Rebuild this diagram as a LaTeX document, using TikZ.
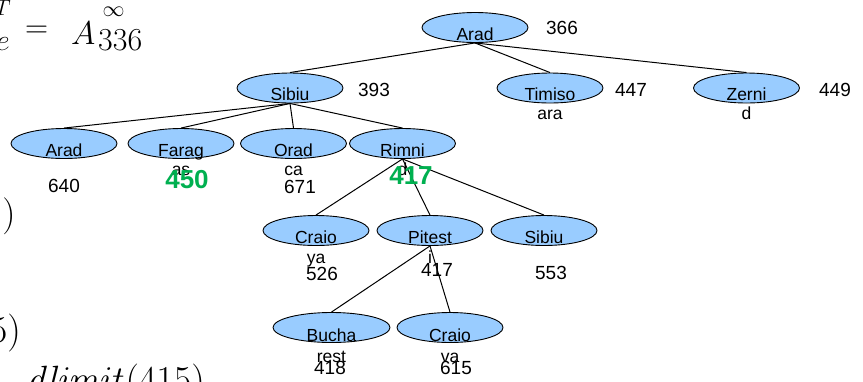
\RequirePackage{fix-cm}
\documentclass[tikz,border=0pt]{standalone}
\usepackage[no-math]{fontspec}
\setmainfont{Liberation Sans}
\usetikzlibrary{shapes.geometric}
\definecolor{nodeblue}{RGB}{153,204,255}
\definecolor{hgreen}{RGB}{0,176,80}
\begin{document}
\begin{tikzpicture}[x=1pt,y=-1pt,
  city/.style={ellipse, draw=black, line width=0.9pt, fill=nodeblue,
    minimum width=106pt, minimum height=30pt, inner sep=0pt},
  nm/.style={font=\fontsize{17.5}{20}\selectfont, inner sep=0pt, anchor=base},
  cost/.style={font=\fontsize{19}{22}\selectfont, inner sep=0pt},
  hcost/.style={font=\fontsize{26}{30}\selectfont\bfseries, text=hgreen, inner sep=0pt},
  edge/.style={draw=black, line width=1pt},
  mth/.style={inner sep=0pt, anchor=base west}]
\useasboundingbox (0,0) rectangle (863,381);
\clip (0,0) rectangle (863,381);

% ellipses
\node[city] (a0) at (475,27.5) {};
\node[city] (s1) at (290,88) {};
\node[city] (t1) at (550,88) {};
\node[city] (z1) at (746.5,88) {};
\node[city] (a2) at (64,143.5) {};
\node[city] (f2) at (181,143.5) {};
\node[city] (o2) at (293.5,143.5) {};
\node[city] (r2) at (402.5,143.5) {};
\node[city] (c3) at (316,230.5) {};
\node[city] (p3) at (430,230.5) {};
\node[city] (s3) at (544,230.5) {};
\node[city, minimum width=117pt] (b4) at (331.5,327.5) {};
\node[city] (c4) at (450,327.5) {};

% edges
\draw[edge] (a0.south) -- (s1.north);
\draw[edge] (a0.south) -- (t1.north);
\draw[edge] (a0.south) -- (z1.north);
\draw[edge] (s1.south) -- (a2.north);
\draw[edge] (s1.south) -- (f2.north);
\draw[edge] (s1.south) -- (o2.north);
\draw[edge] (s1.south) -- (r2.north);
\draw[edge] (r2.south) -- (c3.north);
\draw[edge] (r2.south) -- (p3.north);
\draw[edge] (r2.south) -- (s3.north);
\draw[edge] (p3.south) -- (b4.north);
\draw[edge] (p3.south) -- (c4.north);

% node texts
\node[nm] (a0t) at ([yshift=-12.5pt]a0.center) {Arad};
\node[nm] (s1t) at ([yshift=-12.5pt]s1.center) {Sibiu};
\node[nm] (t1t) at ([yshift=-12.5pt]t1.center) {Timiso};
\node[nm] (t1u) at ([yshift=-31pt]t1.center) {ara};
\node[nm] (z1t) at ([yshift=-12.5pt]z1.center) {Zerni};
\node[nm] (z1u) at ([yshift=-31pt]z1.center) {d};
\node[nm] (a2t) at ([yshift=-13pt]a2.center) {Arad};
\node[nm] (f2t) at ([yshift=-13pt]f2.center) {Farag};
\node[nm] (f2u) at ([yshift=-31.5pt]f2.center) {as};
\node[nm] (o2t) at ([yshift=-13pt]o2.center) {Orad};
\node[nm] (o2u) at ([yshift=-31.5pt]o2.center) {ca};
\node[nm] (r2t) at ([yshift=-13pt]r2.center) {Rimni};
\node[nm] (r2u) at ([yshift=-31.5pt]r2.center) {d};
\node[nm] (c3t) at ([yshift=-13pt]c3.center) {Craio};
\node[nm] (c3u) at ([yshift=-33pt]c3.center) {ya};
\node[nm] (p3t) at ([yshift=-13pt]p3.center) {Pitest};
\node[nm] (p3u) at ([yshift=-33pt]p3.center) {i};
\node[nm] (s3t) at ([yshift=-13pt]s3.center) {Sibiu};
\node[nm] (b4t) at ([yshift=-14pt]b4.center) {Bucha};
\node[nm] (b4u) at ([yshift=-34.5pt]b4.center) {rest};
\node[nm] (c4t) at ([yshift=-14pt]c4.center) {Craio};
\node[nm] (c4u) at ([yshift=-34.5pt]c4.center) {va};

% costs
\node[cost] (k366) at (562,28) {366};
\node[cost] (k393) at (374,90) {393};
\node[cost] (k447) at (631,90) {447};
\node[cost] (k449) at (835,90) {449};
\node[cost] (k640) at (64,186) {640};
\node[cost] (k671) at (300,187) {671};
\node[hcost] (k450) at (187,180) {450};
\node[hcost] (k417a) at (411,176) {417};
\node[cost] (k526) at (322,274) {526};
\node[cost] (k417) at (437,270) {417};
\node[cost] (k553) at (551,273) {553};
\node[cost] (k418) at (330,368) {418};
\node[cost] (k615) at (456,368) {615};

% math fragments on the left
\node[mth, font=\fontsize{22}{26}\selectfont] (mT) at (-5,15) {$T$};
\node[mth, font=\fontsize{30}{34}\selectfont] (me) at (-4,50) {$e$};
\node[mth, font=\fontsize{32}{38}\selectfont] (meq) at (25,37) {$=$};
\node[mth, font=\fontsize{33}{38}\selectfont] (mA) at (71,44) {$A$};
\node[inner sep=0pt, font=\fontsize{22}{26}\selectfont] (minf) at (113.5,11.5) {$\infty$};
\node[mth, font=\fontsize{32}{38}\selectfont] (m336) at (98,50) {$336$};
\node[inner sep=0pt, font=\fontsize{37}{40}\selectfont] (mp1) at (9,216.5) {$)$};
\node[inner sep=0pt, anchor=base east, font=\fontsize{38}{42}\selectfont] (mp2) at (21,342) {$5)$};
\node[inner sep=0pt, anchor=base east, font=\fontsize{38}{42}\selectfont] (mlim) at (205,392) {$\mathit{dlimit}(415)$};
\end{tikzpicture}
\end{document}
